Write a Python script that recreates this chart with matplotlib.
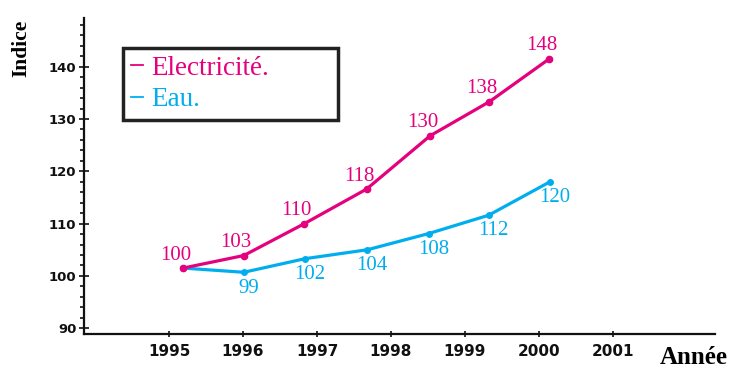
import matplotlib
matplotlib.use("Agg")
import matplotlib.pyplot as plt
from matplotlib.lines import Line2D
from matplotlib.ticker import MultipleLocator

# ---- data ----
years = [1995, 1996, 1997, 1998, 1999, 2000, 2001]
y_ticks = [90, 100, 110, 120, 130, 140]

# point positions as drawn (x in year units, y in index units)
elec_x = [1995.19, 1996.01, 1996.83, 1997.67, 1998.53, 1999.33, 2000.14]
elec_y = [101.5, 103.9, 110.0, 116.6, 126.8, 133.3, 141.5]
eau_x = [1995.19, 1996.01, 1996.84, 1997.68, 1998.51, 1999.32, 2000.15]
eau_y = [101.5, 100.7, 103.3, 105.0, 108.1, 111.6, 118.0]

# printed value labels
elec_labels = ["100", "103", "110", "118", "130", "138", "148"]
eau_labels = ["", "99", "102", "104", "108", "112", "120"]

series_names = ["Electricité.", "Eau."]

MAGENTA = "#E5007D"
CYAN = "#00AEEF"

fig = plt.figure(figsize=(7.51, 3.72), dpi=100)
fig.patch.set_facecolor("white")
ax = fig.add_axes([84 / 751, 1 - 334 / 372, (715 - 84) / 751, (334 - 18) / 372])
ax.set_facecolor("white")

ax.set_xlim(1993.85, 2002.38)
ax.set_ylim(88.9, 149.3)

ax.plot(elec_x, elec_y, color=MAGENTA, lw=2.3, marker="o", ms=4.5, zorder=3,
        solid_capstyle="round")
ax.plot(eau_x, eau_y, color=CYAN, lw=2.3, marker="o", ms=4.0, zorder=2,
        solid_capstyle="round")

serif = "Liberation Serif"
for x, y, t in zip(elec_x, elec_y, elec_labels):
    if t:
        ax.annotate(t, (x, y), xytext=(-5.5, 2.5), textcoords="offset points",
                    ha="center", va="bottom", color=MAGENTA, fontsize=15,
                    family=serif)
for x, y, t in zip(eau_x, eau_y, eau_labels):
    if t:
        ax.annotate(t, (x, y), xytext=(3.5, -4.5), textcoords="offset points",
                    ha="center", va="top", color=CYAN, fontsize=15,
                    family=serif)

# spines
for s in ["top", "right"]:
    ax.spines[s].set_visible(False)
for s in ["left", "bottom"]:
    ax.spines[s].set_linewidth(1.6)
    ax.spines[s].set_color("#111111")

ax.set_xticks(years)
ax.set_xticklabels([str(y) for y in years])
ax.set_yticks(y_ticks)
ax.set_yticklabels([str(v) for v in y_ticks])
ax.yaxis.set_minor_locator(MultipleLocator(2))

ax.tick_params(axis="x", direction="inout", length=4, width=1.2, pad=5,
               labelsize=11, colors="#111111")
ax.tick_params(axis="y", which="major", direction="inout", length=7, width=1.2,
               pad=2, labelsize=9.5, colors="#111111")
ax.tick_params(axis="y", which="minor", direction="out", length=3, width=1.2,
               colors="#111111")
for lab in ax.get_xticklabels() + ax.get_yticklabels():
    lab.set_fontweight("bold")
    lab.set_family("DejaVu Sans")

# axis titles
fig.text(21 / 751, 1 - 48 / 372, "Indice", rotation=90, ha="center", va="center",
         fontsize=15.5, fontweight="bold", family=serif)
fig.text(694 / 751, 1 - 358 / 372, "Année", ha="center", va="center",
         fontsize=18, fontweight="bold", family=serif)

# legend
handles = [Line2D([], [], color=MAGENTA, lw=1.3),
           Line2D([], [], color=CYAN, lw=1.3)]
bx0, bx1 = 123 / 751, 338 / 751
by1 = 1 - 48 / 372
leg = fig.legend(handles, series_names, loc="upper left",
                 bbox_to_anchor=(bx0, by1 - 0.2, bx1 - bx0, 0.2),
                 mode="expand", prop={"family": serif, "size": 19.5},
                 labelcolor="linecolor", handlelength=0.45, handletextpad=0.3,
                 borderaxespad=0, borderpad=0.28, labelspacing=0.25,
                 fancybox=False, frameon=True, edgecolor="#222222",
                 framealpha=1)
leg.get_frame().set_linewidth(2.5)

fig.savefig("out.png", dpi=100, facecolor="white")
